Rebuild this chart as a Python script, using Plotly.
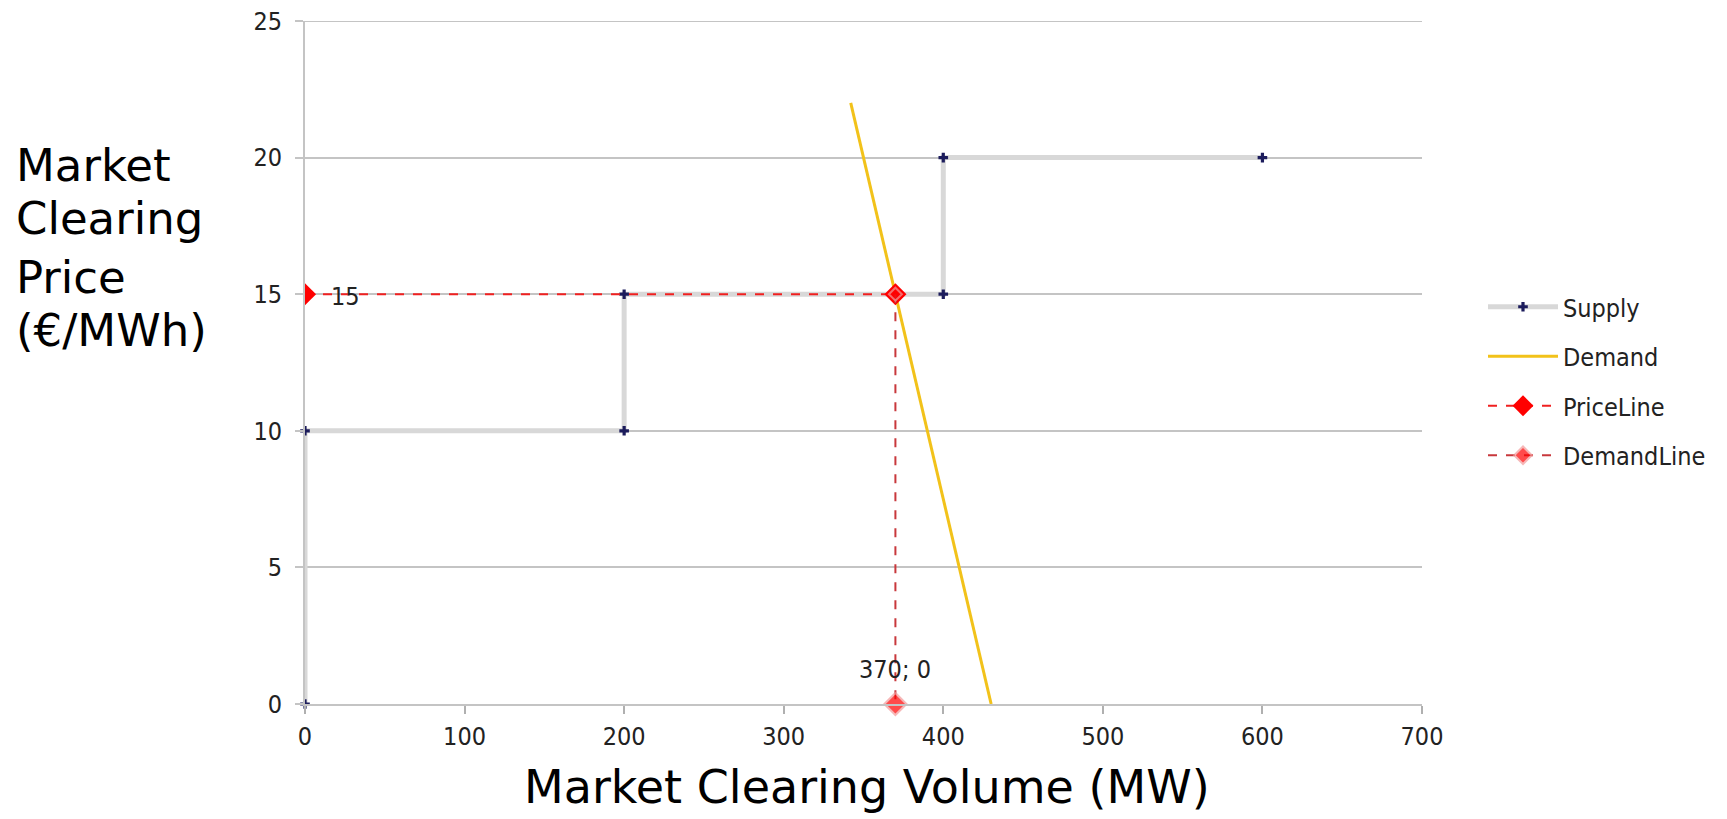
import plotly.graph_objects as go

# ---- data ----
supply_x = [0, 0, 200, 200, 400, 400, 600]
supply_y = [0, 10, 10, 15, 15, 20, 20]

demand_x = [342, 430]
demand_y = [22, 0]

price_x = [0, 370]
price_y = [15, 15]
price_label = "15"

demandline_x = [370, 370]
demandline_y = [15, 0]
demandline_label = "370; 0"

x_ticks = [0, 100, 200, 300, 400, 500, 600, 700]
y_ticks = [0, 5, 10, 15, 20, 25]

x_title = "Market Clearing Volume (MW)"
y_title_lines = ["Market", "Clearing", "Price", "(€/MWh)"]

FONT = "DejaVu Sans Condensed, Liberation Sans, Arial, sans-serif"
TITLE_FONT = "DejaVu Sans, Verdana, sans-serif"
OFF = 8  # page body margin
W, H = 1727 - OFF, 819 - OFF
L, T = 305 - OFF, 21 - OFF
PW, PH = 1117, 683
R, B = W - L - PW, H - T - PH
GRID = "#c4c4c4"

fig = go.Figure()

fig.add_trace(go.Scatter(
    x=supply_x, y=supply_y, name="Supply", mode="lines+markers",
    line=dict(color="#d8d8d8", width=5),
    marker=dict(symbol="cross", size=8, color="#1c1c5c", line=dict(width=0)),
    legendgroup="a", cliponaxis=False,
))
fig.add_trace(go.Scatter(
    x=demand_x, y=demand_y, name="Demand", mode="lines",
    line=dict(color="#f2c21a", width=3),
    legendgroup="b", cliponaxis=False,
))
fig.add_trace(go.Scatter(
    x=price_x, y=price_y, name="PriceLine", mode="lines+markers",
    line=dict(color="#f02020", width=2, dash="dash"),
    marker=dict(symbol="diamond", size=17, color="#ff0000"),
    legendgroup="c", cliponaxis=True,
))
fig.add_trace(go.Scatter(
    x=demandline_x, y=demandline_y, name="DemandLine", mode="lines+markers",
    line=dict(color="#c8383c", width=2, dash="dash"),
    marker=dict(symbol="diamond", size=[10, 17], color="#ff0000",
                line=dict(color="#f39a9a", width=2)),
    legendgroup="d", cliponaxis=False,
))


def px_to_paper_x(px):
    return (px - OFF - L) / PW


def px_to_paper_y(py):
    return (T + PH - (py - OFF)) / PH


annotations = []
y_centers = [165, 218, 277, 330]
for line, yc in zip(y_title_lines, y_centers):
    annotations.append(dict(
        text=line, xref="paper", yref="paper",
        x=px_to_paper_x(14), y=px_to_paper_y(yc),
        xanchor="left", yanchor="middle", showarrow=False,
        font=dict(family=TITLE_FONT, size=45, color="#000000"),
    ))
annotations.append(dict(
    text=x_title, xref="paper", yref="paper",
    x=px_to_paper_x(867), y=px_to_paper_y(787),
    xanchor="center", yanchor="middle", showarrow=False,
    font=dict(family=TITLE_FONT, size=46, color="#000000"),
))
# data labels
annotations.append(dict(
    text=price_label, x=price_x[0], y=price_y[0], xref="x", yref="y",
    xanchor="left", yanchor="middle", xshift=24, yshift=-2, showarrow=False,
    font=dict(family=FONT, size=25, color="#222222"),
))
annotations.append(dict(
    text=demandline_label, x=demandline_x[1], y=demandline_y[1], xref="x", yref="y",
    xanchor="center", yanchor="middle", yshift=35, showarrow=False,
    font=dict(family=FONT, size=25, color="#222222"),
))

fig.update_layout(
    width=W, height=H,
    margin=dict(l=L, r=R, t=T, b=B, pad=0, autoexpand=False),
    plot_bgcolor="white", paper_bgcolor="white",
    showlegend=True,
    legend=dict(
        x=px_to_paper_x(1483), y=px_to_paper_y(381),
        xanchor="left", yanchor="middle",
        font=dict(family=FONT, size=25, color="#222222"),
        itemwidth=70, tracegroupgap=14, traceorder="grouped",
        bgcolor="rgba(0,0,0,0)",
    ),
    annotations=annotations,
    shapes=[dict(type="line", xref="paper", yref="y", x0=0, x1=1,
                 y0=y_ticks[-1], y1=y_ticks[-1], layer="below",
                 line=dict(color=GRID, width=2))],
    xaxis=dict(
        range=[0, 700], tickvals=x_ticks, showgrid=False, zeroline=False,
        showline=True, linecolor=GRID, linewidth=2,
        ticks="outside", ticklen=8, tickcolor="#b0b0b0", tickwidth=2,
        tickfont=dict(family=FONT, size=25, color="#222222"),
        ticklabelstandoff=1, ticklabeloverflow="allow",
    ),
    yaxis=dict(
        range=[0, 25], tickvals=y_ticks, showgrid=True, gridcolor=GRID, gridwidth=2,
        zeroline=False, showline=True, linecolor=GRID, linewidth=2,
        ticks="outside", ticklen=8, tickcolor=GRID, tickwidth=2,
        tickfont=dict(family=FONT, size=25, color="#222222"),
        ticklabelstandoff=8, ticklabeloverflow="allow",
    ),
)

fig.write_html("out.html")
